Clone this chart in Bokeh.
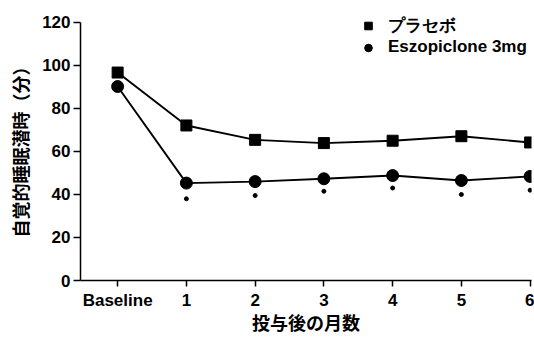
from bokeh.plotting import figure
from bokeh.models import Range1d, FixedTicker, Legend, LegendItem
from bokeh.embed import file_html
from bokeh.resources import INLINE

# Data
x_pos = [0, 1, 2, 3, 4, 5, 6]
tick_labels = ["Baseline", "1", "2", "3", "4", "5", "6"]
placebo = [96.7, 72.1, 65.4, 63.9, 65.0, 67.1, 64.2]
eszopiclone = [90.2, 45.3, 46.0, 47.3, 48.8, 46.5, 48.4]
sig_x = [1, 2, 3, 4, 5, 6]
sig_y = [38.0, 39.5, 41.5, 43.0, 40.0, 42.0]
y_ticks = [0, 20, 40, 60, 80, 100, 120]
legend_labels = ["プラセボ", "Eszopiclone 3mg"]
y_title = "自覚的睡眠潜時（分）"
x_title = "投与後の月数"

FONT = "Liberation Sans"
CJK = "Noto Sans CJK JP"

# frame extends a little above 120 so the legend has room; axis line bounded to 0..120
p = figure(width=534, height=339, output_backend="svg", toolbar_location=None,
           x_range=Range1d(-0.54, 6.02), y_range=Range1d(0, 123.7),
           min_border_left=80, min_border_right=3, min_border_top=14, min_border_bottom=59)
p.outline_line_color = None
p.grid.visible = False
p.background_fill_color = "white"
p.border_fill_color = "white"

p.line(x_pos, placebo, line_color="black", line_width=1.9)
p.line(x_pos, eszopiclone, line_color="black", line_width=1.9)
sq = p.scatter(x_pos, placebo, marker="square", size=11, fill_color="black", line_color="black")
ci = p.scatter(x_pos, eszopiclone, marker="circle", size=12, fill_color="black", line_color="black")
p.scatter(sig_x, sig_y, marker="circle", size=4, fill_color="black", line_color="black")

# axes
p.xaxis.ticker = FixedTicker(ticks=x_pos)
p.xaxis.major_label_overrides = {x: l for x, l in zip(x_pos, tick_labels)}
p.yaxis.ticker = FixedTicker(ticks=y_ticks)
p.yaxis.bounds = (0, 120)
for ax in (p.xaxis[0], p.yaxis[0]):
    ax.axis_line_color = "black"
    ax.axis_line_width = 1.5
    ax.major_tick_line_color = "black"
    ax.major_tick_line_width = 1.5
    ax.major_tick_in = 0
    ax.minor_tick_line_color = None
    ax.major_label_text_font = FONT
    ax.major_label_text_font_style = "bold"
    ax.major_label_text_font_size = "17px"
    ax.major_label_text_color = "black"
    ax.axis_label_text_font = CJK
    ax.axis_label_text_font_style = "bold"
    ax.axis_label_text_font_size = "18px"
    ax.axis_label_text_color = "black"

p.xaxis.major_tick_out = 6
p.yaxis.major_tick_out = 7
p.xaxis.axis_label = x_title
p.yaxis.axis_label = y_title
p.xaxis.major_label_standoff = 4
p.yaxis.major_label_standoff = 3
p.xaxis.axis_label_standoff = -4
p.yaxis.axis_label_standoff = 6

legend = Legend(items=[LegendItem(label=legend_labels[0], renderers=[sq]),
                       LegendItem(label=legend_labels[1], renderers=[ci])],
                location=(278, 223), padding=0, margin=0, spacing=0,
                glyph_width=20, glyph_height=19, label_height=19, label_standoff=10,
                background_fill_alpha=0, border_line_color=None,
                label_text_font=FONT, label_text_font_size="17px",
                label_text_font_style="bold", label_text_color="black")
p.add_layout(legend)

open("out.html", "w").write(file_html(p, INLINE))
